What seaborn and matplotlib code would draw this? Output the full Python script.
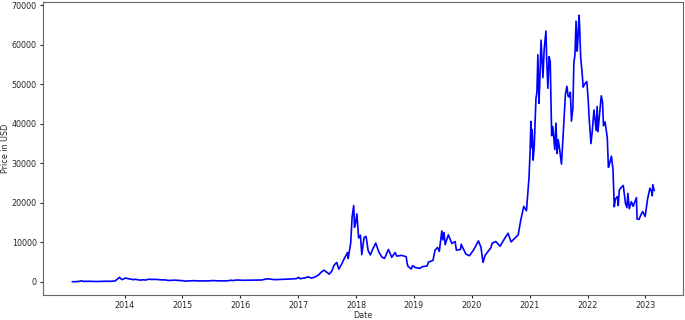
import pandas as pd
import matplotlib.pyplot as plt
import seaborn as sns

sns.set_style('ticks')
plt.rcParams['font.family'] = ['DejaVu Sans']

# Precio de cierre aproximado (USD)
fechas = [
    '2013-02-05', '2013-03-05', '2013-04-09', '2013-04-16', '2013-05-01', '2013-06-01',
    '2013-07-05', '2013-08-01', '2013-09-01', '2013-10-01', '2013-11-01', '2013-11-18',
    '2013-11-30', '2013-12-07', '2013-12-18', '2014-01-05', '2014-01-20', '2014-02-10',
    '2014-02-25', '2014-03-10', '2014-04-10', '2014-04-25', '2014-05-15', '2014-06-03',
    '2014-06-20', '2014-07-15', '2014-08-15', '2014-09-15', '2014-10-05', '2014-11-12',
    '2014-12-15', '2015-01-05', '2015-01-14', '2015-02-10', '2015-03-10', '2015-04-15',
    '2015-05-15', '2015-06-15', '2015-07-12', '2015-08-20', '2015-09-20', '2015-10-20',
    '2015-11-04', '2015-11-15', '2015-12-15', '2016-01-15', '2016-02-15', '2016-03-15',
    '2016-04-15', '2016-05-15', '2016-06-17', '2016-07-15', '2016-08-02', '2016-09-15',
    '2016-10-15', '2016-11-15', '2016-12-20', '2017-01-04', '2017-01-12', '2017-02-15',
    '2017-03-03', '2017-03-24', '2017-04-15', '2017-05-10', '2017-05-25', '2017-06-12',
    '2017-06-25', '2017-07-16', '2017-08-01', '2017-08-15', '2017-09-01', '2017-09-14',
    '2017-10-01', '2017-10-20', '2017-11-08', '2017-11-12', '2017-11-28', '2017-12-07',
    '2017-12-17', '2017-12-22', '2017-12-28', '2018-01-06', '2018-01-17', '2018-01-28',
    '2018-02-06', '2018-02-20', '2018-03-05', '2018-03-18', '2018-04-01', '2018-04-12',
    '2018-05-05', '2018-05-25', '2018-06-12', '2018-06-29', '2018-07-24', '2018-08-14',
    '2018-09-04', '2018-09-15', '2018-10-15', '2018-11-13', '2018-11-20', '2018-11-25',
    '2018-12-15', '2018-12-24', '2019-01-10', '2019-02-07', '2019-02-25', '2019-03-25',
    '2019-04-03', '2019-05-01', '2019-05-14', '2019-05-30', '2019-06-10', '2019-06-26',
    '2019-07-02', '2019-07-10', '2019-07-17', '2019-08-06', '2019-08-28', '2019-09-18',
    '2019-09-26', '2019-10-22', '2019-10-26', '2019-11-25', '2019-12-17', '2020-01-13',
    '2020-02-12', '2020-02-28', '2020-03-12', '2020-03-25', '2020-04-30', '2020-05-09',
    '2020-06-01', '2020-06-27', '2020-07-27', '2020-08-17', '2020-09-05', '2020-10-20',
    '2020-11-05', '2020-11-24', '2020-12-11', '2020-12-27', '2021-01-03', '2021-01-08',
    '2021-01-12', '2021-01-16', '2021-01-22', '2021-01-29', '2021-02-09', '2021-02-15',
    '2021-02-21', '2021-02-28', '2021-03-05', '2021-03-13', '2021-03-18', '2021-03-25',
    '2021-04-02', '2021-04-13', '2021-04-18', '2021-04-25', '2021-05-03', '2021-05-10',
    '2021-05-13', '2021-05-19', '2021-05-26', '2021-06-01', '2021-06-08', '2021-06-15',
    '2021-06-22', '2021-06-29', '2021-07-06', '2021-07-20', '2021-08-02', '2021-08-14',
    '2021-08-23', '2021-08-31', '2021-09-07', '2021-09-14', '2021-09-21', '2021-09-30',
    '2021-10-06', '2021-10-13', '2021-10-20', '2021-10-27', '2021-11-01', '2021-11-08',
    '2021-11-12', '2021-11-18', '2021-11-26', '2021-12-04', '2021-12-12', '2021-12-27',
    '2022-01-05', '2022-01-10', '2022-01-22', '2022-01-30', '2022-02-10', '2022-02-24',
    '2022-03-02', '2022-03-07', '2022-03-28', '2022-04-05', '2022-04-11', '2022-04-21',
    '2022-05-05', '2022-05-12', '2022-05-20', '2022-05-31', '2022-06-10', '2022-06-18',
    '2022-06-26', '2022-07-08', '2022-07-13', '2022-07-20', '2022-07-30', '2022-08-14',
    '2022-08-28', '2022-09-06', '2022-09-12', '2022-09-21', '2022-10-04', '2022-10-15',
    '2022-10-29', '2022-11-05', '2022-11-09', '2022-11-21', '2022-12-05', '2022-12-14',
    '2022-12-30', '2023-01-14', '2023-01-29', '2023-02-08', '2023-02-13', '2023-02-16',
    '2023-02-25',
]
precios = [
    20, 40, 230, 80, 120, 125,
    70, 100, 135, 130, 200, 700,
    1150, 800, 540, 950, 830, 680,
    540, 630, 420, 500, 450, 665,
    590, 620, 500, 475, 330, 420,
    340, 275, 180, 220, 290, 220,
    237, 235, 310, 235, 230, 270,
    400, 330, 460, 380, 400, 415,
    430, 455, 750, 660, 540, 610,
    640, 710, 800, 1130, 780, 1000,
    1280, 940, 1180, 1750, 2400, 2950,
    2550, 1930, 2730, 4200, 4900, 3200,
    4400, 6000, 7400, 5900, 9800, 16500,
    19300, 13800, 14700, 17200, 11100, 11800,
    6900, 11200, 11500, 7900, 6800, 7900,
    9800, 7500, 6300, 5900, 8200, 6200,
    7400, 6500, 6700, 6350, 4500, 3900,
    3250, 4100, 3600, 3400, 3850, 4000,
    5000, 5400, 8000, 8700, 7700, 12900,
    10600, 12500, 9400, 11900, 9700, 10200,
    8000, 8200, 9500, 7000, 6600, 8100,
    10350, 8700, 4900, 6700, 8600, 9800,
    10200, 9000, 11000, 12300, 10100, 11900,
    15600, 19100, 18000, 26300, 33000, 40600,
    34000, 38500, 30800, 34300, 46400, 48000,
    57500, 45200, 50500, 61200, 57000, 51700,
    59000, 63500, 56000, 49000, 57000, 55800,
    49500, 37000, 39300, 36500, 33500, 40200,
    32500, 36000, 34200, 29800, 39200, 47500,
    49500, 47000, 46800, 48000, 40700, 44000,
    55300, 57500, 66000, 58400, 61500, 67500,
    64000, 56900, 53500, 49300, 50000, 50700,
    45800, 41800, 35000, 38000, 43500, 38300,
    44400, 38000, 47100, 45500, 39500, 40500,
    36500, 29000, 30000, 31800, 28400, 19000,
    21000, 21600, 19300, 23200, 23800, 24400,
    19800, 18800, 22400, 18500, 20300, 19100,
    20600, 21300, 15900, 15800, 17100, 17800,
    16550, 20900, 23700, 22900, 21800, 24600,
    23100,
]
anios = [str(y) for y in range(2014, 2024)]

btc = pd.DataFrame({'Date': pd.to_datetime(fechas), 'Price in USD': precios})

fig, ax = plt.subplots(figsize=(6.85, 3.2), dpi=100)
sns.lineplot(data=btc, x='Date', y='Price in USD', color='blue', linewidth=1.2, ax=ax)
ax.set_xticks(pd.to_datetime([a + '-01-01' for a in anios]))
ax.set_xticklabels(anios)
ax.set_xlabel('Date', fontsize=5.8, labelpad=0.5)
ax.set_ylabel('Price in USD', fontsize=5.8, labelpad=1.5)
ax.tick_params(labelsize=5.8, length=2.5, pad=2)
for s in ax.spines.values():
    s.set_color('0.4')
fig.subplots_adjust(left=0.063, right=0.9975, bottom=0.078, top=0.994)
plt.savefig('out.png')
